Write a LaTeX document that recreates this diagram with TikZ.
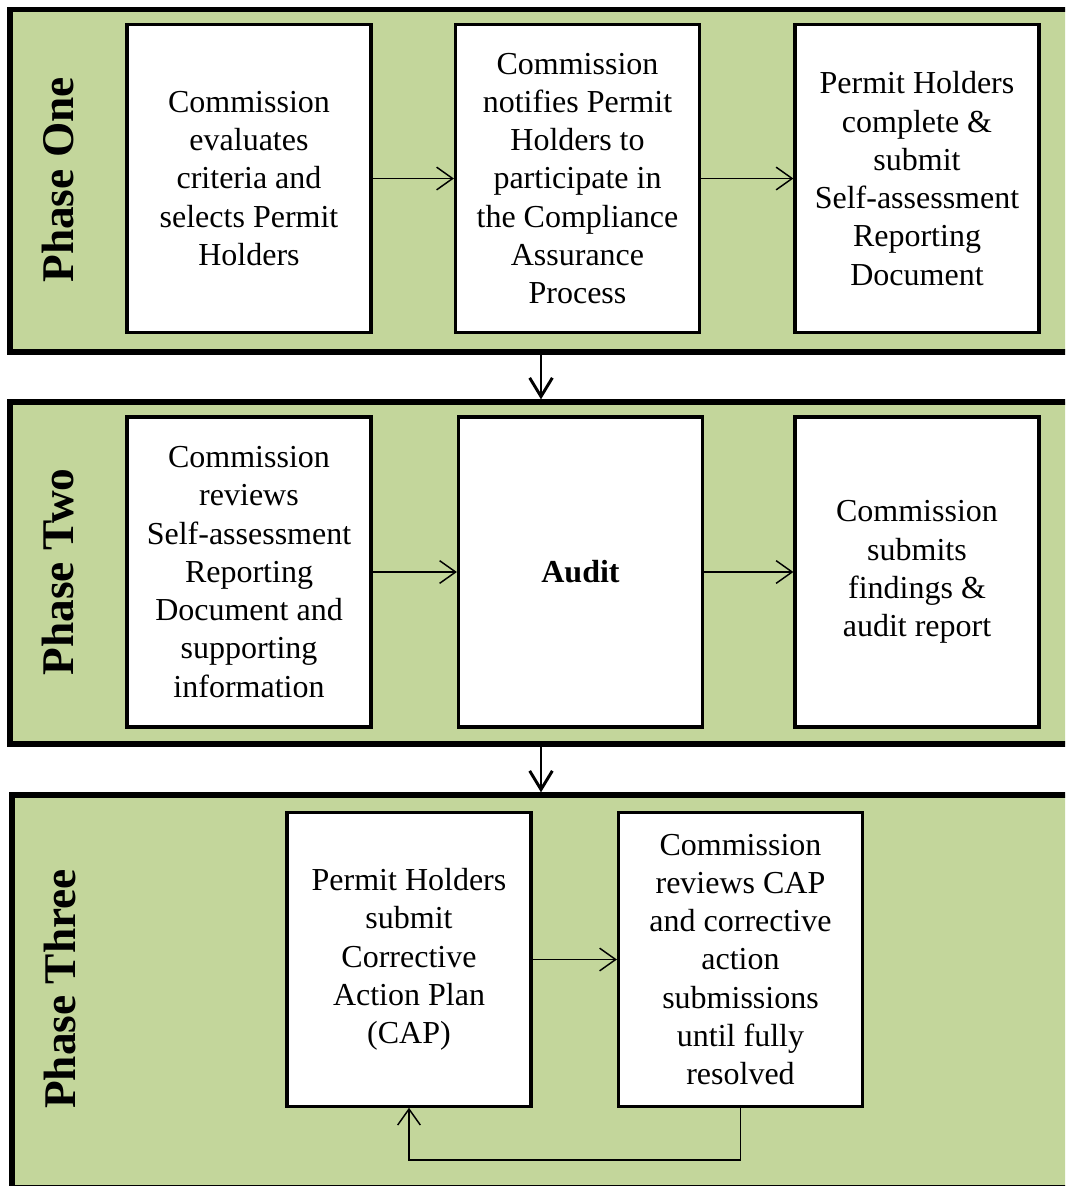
\documentclass[tikz,border=0pt]{standalone}
\usepackage{fontspec}
\setmainfont{Liberation Serif}
\usetikzlibrary{arrows.meta}
\definecolor{phasegreen}{RGB}{195,214,155}

\begin{document}
\begin{tikzpicture}[x=0.75pt,y=-0.75pt,
  phasepanel/.style={draw,line width=4pt,fill=phasegreen,minimum width=796.5pt},
  phasetitle/.style={rotate=90,font=\fontsize{34}{40}\selectfont\bfseries},
  stepbox/.style={draw,line width=2.4pt,fill=white,minimum width=183pt,align=center,
    font=\fontsize{24}{28.7}\selectfont},
  flowarrow/.style={-{Straight Barb[length=12pt,width=17pt]},line width=1.1pt},
  nextphase/.style={-{Straight Barb[length=14pt,width=17pt]},line width=2.2pt}]
\useasboundingbox (0,0) rectangle (1065,1186);
\clip (0,0) rectangle (1065,1186);
%----------Phase One---------------------------
\node[phasepanel,minimum height=257pt] (P1) at (541,180.75) {};
\node[phasetitle] (T1) at (58,180) {Phase One};
\node[stepbox,minimum height=231pt] (A1) at (249,178.5) {Commission\\evaluates\\criteria and\\selects Permit\\Holders};
\node[stepbox,minimum height=231pt] (A2) at (577.5,178.5) {Commission\\notifies Permit\\Holders to\\participate in\\the Compliance\\Assurance\\Process};
\node[stepbox,minimum height=231pt] (A3) at (917,178.5) {Permit Holders\\complete \&\\submit\\Self-assessment\\Reporting\\Document};
\draw[flowarrow] (A1) -- (A2);
\draw[flowarrow] (A2) -- (A3);
%----------Phase Two---------------------------
\node[phasepanel,minimum height=256.5pt] (P2) at (541,573) {};
\node[phasetitle] (T2) at (58,572) {Phase Two};
\node[stepbox,minimum height=232.5pt] (B1) at (249,572) {Commission\\reviews\\Self-assessment\\Reporting\\Document and\\supporting\\information};
\node[stepbox,minimum height=232.5pt] (B2) at (580.5,572) {\textbf{Audit}};
\node[stepbox,minimum height=232.5pt] (B3) at (917,572) {Commission\\submits\\findings \&\\audit report};
\draw[flowarrow] (B1) -- (B2);
\draw[flowarrow] (B2) -- (B3);
%----------Phase Three-------------------------
\node[phasepanel,minimum width=793.5pt,minimum height=294.75pt] (P3) at (541,991.5) {};
\node[phasetitle] (T3) at (60,989) {Phase Three};
\node[stepbox,minimum height=220pt] (C1) at (409,959.5) {Permit Holders\\submit\\Corrective\\Action Plan\\(CAP)};
\node[stepbox,minimum height=220pt] (C2) at (740.5,959.5) {Commission\\reviews CAP\\and corrective\\action\\submissions\\until fully\\resolved};
\draw[flowarrow] (C1) -- (C2);
\draw[flowarrow] (C2.south) -- ++(0,52) -| (C1.south);
%----------between the phases------------------
\draw[nextphase] (P1) -- (P2);
\draw[nextphase] (P2) -- (P3);
\end{tikzpicture}
\end{document}
